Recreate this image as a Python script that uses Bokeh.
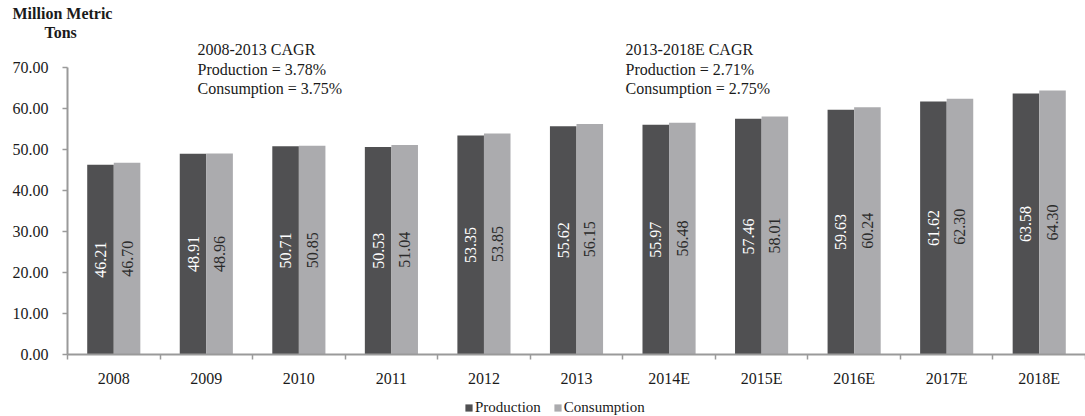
from bokeh.plotting import figure
from bokeh.models import (ColumnDataSource, Range1d, LinearAxis, FixedTicker,
                          NumeralTickFormatter, Legend, LegendItem, Title)
from bokeh.layouts import column
from bokeh.core.properties import value
from bokeh.embed import file_html
from bokeh.resources import INLINE

categories = ["2008", "2009", "2010", "2011", "2012", "2013",
              "2014E", "2015E", "2016E", "2017E", "2018E"]
production = [46.21, 48.91, 50.71, 50.53, 53.35, 55.62, 55.97, 57.46, 59.63, 61.62, 63.58]
consumption = [46.70, 48.96, 50.85, 51.04, 53.85, 56.15, 56.48, 58.01, 60.24, 62.30, 64.30]
y_ticks = [0, 10, 20, 30, 40, 50, 60, 70]
y_title = ["Million Metric", "Tons"]
cagr_left = ["2008-2013 CAGR", "Production = 3.78%", "Consumption = 3.75%"]
cagr_right = ["2013-2018E CAGR", "Production = 2.71%", "Consumption = 2.75%"]
series_names = ["Production", "Consumption"]

FONT = "Liberation Serif"
DARK = "#505052"
LIGHT = "#ababae"
AXIS = "#9a9a9a"
TXT = "#1a1a1a"

n = len(categories)
centers = [i + 0.5 for i in range(n)]
BW = 0.287
off = BW / 2

p = figure(width=1085, height=396, output_backend="svg", toolbar_location=None,
           x_range=Range1d(0, n), y_range=Range1d(0, 76.5),
           x_axis_type=None, y_axis_type=None,
           min_border_left=67, min_border_right=0, min_border_top=40, min_border_bottom=42)
p.outline_line_color = None
p.xgrid.visible = False
p.ygrid.visible = False

src = ColumnDataSource(dict(
    xp=[c - off for c in centers], xc=[c + off for c in centers],
    prod=production, cons=consumption,
    prod_mid=[v / 2 for v in production], cons_mid=[v / 2 for v in consumption],
    prod_lab=["%.2f" % v for v in production], cons_lab=["%.2f" % v for v in consumption],
))

p.vbar(x="xp", top="prod", width=BW, bottom=0, source=src,
       fill_color=DARK, line_color=None)
p.vbar(x="xc", top="cons", width=BW, bottom=0, source=src,
       fill_color=LIGHT, line_color=None)

p.text(x="xp", y="prod_mid", text="prod_lab", source=src, angle=1.5707963,
       text_align="center", text_baseline="middle", text_color="white",
       text_font=value(FONT), text_font_size="16px")
p.text(x="xc", y="cons_mid", text="cons_lab", source=src, angle=1.5707963,
       text_align="center", text_baseline="middle", text_color="#2a2a2a",
       text_font=value(FONT), text_font_size="16px")

# axes
yaxis = LinearAxis(ticker=FixedTicker(ticks=y_ticks, minor_ticks=[]),
                   formatter=NumeralTickFormatter(format="0.00"), bounds=(0, 70))
yaxis.axis_line_color = AXIS
yaxis.axis_line_width = 2
yaxis.major_tick_line_color = AXIS
yaxis.major_tick_line_width = 1.5
yaxis.major_tick_out = 5
yaxis.major_tick_in = 0
yaxis.major_label_standoff = 14
yaxis.major_label_text_font = FONT
yaxis.major_label_text_font_size = "16px"
yaxis.major_label_text_color = TXT
p.add_layout(yaxis, "left")

xaxis = LinearAxis(ticker=FixedTicker(ticks=centers, minor_ticks=list(range(n + 1))))
xaxis.major_label_overrides = {c: cat for c, cat in zip(centers, categories)}
xaxis.axis_line_color = AXIS
xaxis.axis_line_width = 2
xaxis.major_tick_line_color = None
xaxis.major_tick_out = 5
xaxis.major_tick_in = 0
xaxis.minor_tick_line_color = AXIS
xaxis.minor_tick_line_width = 1.5
xaxis.minor_tick_out = 5
xaxis.minor_tick_in = 0
xaxis.major_label_standoff = 10
xaxis.major_label_text_font = FONT
xaxis.major_label_text_font_size = "16px"
xaxis.major_label_text_color = TXT
p.add_layout(xaxis, "below")

# CAGR annotations
line_y = [74.3, 69.5, 64.7]
cagr_src = ColumnDataSource(dict(
    x=[1.405] * 3 + [6.03] * 3, y=line_y + line_y, t=cagr_left + cagr_right))
p.text(x="x", y="y", text="t", source=cagr_src, text_align="left",
       text_baseline="middle", text_color=TXT,
       text_font=value(FONT), text_font_size="16px")

# y-axis title (two stacked titles above the frame)
p.add_layout(Title(text=y_title[1], align="left", offset=-23, standoff=0,
                   text_font=FONT, text_font_size="16px", text_font_style="bold",
                   text_color=TXT), "above")
p.add_layout(Title(text=y_title[0], align="left", offset=-55, standoff=0,
                   text_font=FONT, text_font_size="16px", text_font_style="bold",
                   text_color=TXT), "above")

# legend strip
lg = figure(width=1085, height=20, output_backend="svg", toolbar_location=None,
            x_range=Range1d(0, 1), y_range=Range1d(0, 1),
            x_axis_type=None, y_axis_type=None,
            min_border_left=0, min_border_right=0, min_border_top=0, min_border_bottom=0)
lg.outline_line_color = None
lg.xgrid.visible = False
lg.ygrid.visible = False
r1 = lg.vbar(x=[0.5], top=[0], bottom=[0], width=0.001, fill_color=DARK, line_color=None)
r2 = lg.vbar(x=[0.5], top=[0], bottom=[0], width=0.001, fill_color=LIGHT, line_color=None)
legend = Legend(items=[LegendItem(label=series_names[0], renderers=[r1]),
                       LegendItem(label=series_names[1], renderers=[r2])],
                orientation="horizontal", location=(397, 0))
legend.label_text_font = FONT
legend.label_text_font_size = "15px"
legend.label_text_color = TXT
legend.label_standoff = 2
legend.glyph_width = 9
legend.glyph_height = 9
legend.spacing = 12
legend.padding = 0
legend.margin = 0
legend.border_line_color = None
legend.background_fill_alpha = 0
lg.add_layout(legend)

layout = column(p, lg, spacing=0)
open("out.html", "w").write(file_html(layout, INLINE))
